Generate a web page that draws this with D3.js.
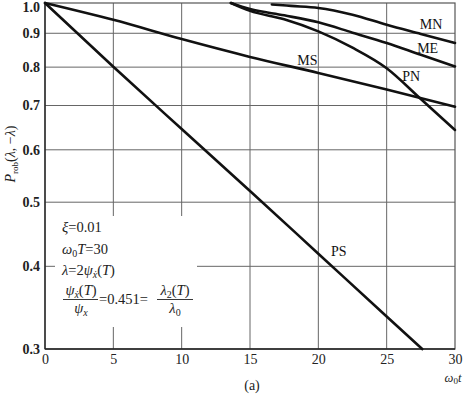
<!DOCTYPE html>
<html><head><meta charset="utf-8">
<script src="https://cdn.jsdelivr.net/npm/d3@7"></script>
<style>body{margin:0;background:#fff}svg{display:block}</style>
</head><body>
<svg id="c" width="464" height="394"></svg>
<script>
// ---- data ----
const xTicks = [0, 5, 10, 15, 20, 25, 30];
const yTicks = [0.3, 0.4, 0.5, 0.6, 0.7, 0.8, 0.9, 1.0];
const gridY = [0.4, 0.5, 0.6, 0.7, 0.8, 0.9];
const gridX = [5, 10, 15, 20, 25];

const psX = [0, 5, 10, 15, 20, 25, 27.6];
const psY = [1.0, 0.801, 0.645, 0.520, 0.418, 0.336, 0.3];
const msX = [0, 5, 10, 15, 20, 25, 30];
const msY = [1.0, 0.943, 0.882, 0.829, 0.784, 0.740, 0.697];
const mnX = [16.6, 18, 20, 22.5, 25, 27.5, 30];
const mnY = [0.995, 0.99, 0.983, 0.960, 0.927, 0.898, 0.870];
const meX = [13.6, 15, 17.5, 20, 22.5, 25, 27.5, 30];
const meY = [1.0, 0.979, 0.958, 0.935, 0.902, 0.870, 0.835, 0.802];
const pnX = [13.6, 15, 17.5, 20, 22.5, 25, 27.5, 30];
const pnY = [1.0, 0.973, 0.945, 0.906, 0.856, 0.797, 0.716, 0.643];

const series = [
  {name: "PS", xs: psX, ys: psY, lx: 21.5, ly: 0.421},
  {name: "MS", xs: msX, ys: msY, lx: 19.2, ly: 0.820},
  {name: "MN", xs: mnX, ys: mnY, lx: 28.25, ly: 0.929},
  {name: "ME", xs: meX, ys: meY, lx: 28.0, ly: 0.855},
  {name: "PN", xs: pnX, ys: pnY, lx: 26.8, ly: 0.775}
];

// ---- drawing ----
const svg = d3.select("#c");
const font = "'Liberation Serif','Times New Roman',serif";
const x = d3.scaleLinear().domain([0, 30]).range([45, 455]);
const y = d3.scaleLog().domain([0.3, 1.0]).range([349, 3]);

// grid
const g = svg.append("g");
g.selectAll(".gy").data(gridY).join("line")
  .attr("x1", x(0)).attr("x2", x(30))
  .attr("y1", d => y(d)).attr("y2", d => y(d))
  .attr("stroke", "#666").attr("stroke-width", 1);
g.selectAll(".gx").data(gridX).join("line")
  .attr("x1", d => x(d)).attr("x2", d => x(d))
  .attr("y1", y(1)).attr("y2", y(0.3))
  .attr("stroke", "#666").attr("stroke-width", 1);
// blank box for annotation
svg.append("rect").attr("x", 55).attr("y", 216).attr("width", 142).attr("height", 111).attr("fill", "#fff");

// frame
svg.append("rect").attr("x", x(0)).attr("y", y(1)).attr("width", x(30) - x(0)).attr("height", y(0.3) - y(1))
  .attr("fill", "none").attr("stroke", "#555").attr("stroke-width", 1.2);
svg.append("line").attr("x1", x(0)).attr("x2", x(0)).attr("y1", y(1)).attr("y2", y(0.3)).attr("stroke", "#222").attr("stroke-width", 1.3);
svg.append("line").attr("x1", x(0)).attr("x2", x(30)).attr("y1", y(0.3)).attr("y2", y(0.3)).attr("stroke", "#222").attr("stroke-width", 1.3);

// axes
const ax = svg.append("g").attr("transform", `translate(0,${y(0.3)})`)
  .call(d3.axisBottom(x).tickValues(xTicks).tickFormat(d3.format("d")).tickSize(0).tickPadding(5));
ax.select(".domain").remove();
ax.selectAll("text").attr("font-family", font).attr("font-size", 14).attr("fill", "#222");

const ay = svg.append("g").attr("transform", `translate(${x(0)},0)`)
  .call(d3.axisLeft(y).tickValues(yTicks).tickFormat(d3.format(".1f")).tickSize(0).tickPadding(5));
ay.select(".domain").remove();
ay.selectAll("text").attr("font-family", font).attr("font-size", 14).attr("font-weight", "bold").attr("fill", "#222");
ay.selectAll(".tick").filter(d => d === 1.0).select("text").attr("dy", "0.62em");

// curves
const line = d3.line().x(d => x(d[0])).y(d => y(d[1])).curve(d3.curveMonotoneX);
series.forEach(s => {
  const pts = s.xs.map((v, i) => [v, s.ys[i]]);
  svg.append("path").attr("d", line(pts)).attr("fill", "none")
    .attr("stroke", "#111").attr("stroke-width", 2.6).attr("stroke-linecap", "round");
  svg.append("text").attr("x", x(s.lx)).attr("y", y(s.ly)).attr("text-anchor", "middle")
    .attr("dominant-baseline", "central")
    .attr("font-family", font).attr("font-size", 14).attr("fill", "#111").text(s.name);
});

// axis titles
const yl = svg.append("text").attr("transform", "translate(15,154) rotate(-90)")
  .attr("text-anchor", "middle").attr("font-family", font).attr("font-size", 14).attr("fill", "#222");
yl.append("tspan").attr("font-style", "italic").text("P");
yl.append("tspan").attr("font-size", 9).attr("dy", 3).text("rob");
yl.append("tspan").attr("dy", -3).text("(");
yl.append("tspan").attr("font-style", "italic").text("λ");
yl.append("tspan").text(", −");
yl.append("tspan").attr("font-style", "italic").text("λ");
yl.append("tspan").text(")");

const xl = svg.append("text").attr("x", 453).attr("y", 382).attr("text-anchor", "middle")
  .attr("font-family", font).attr("font-size", 12.5).attr("font-style", "italic").attr("fill", "#222");
xl.append("tspan").text("ω");
xl.append("tspan").attr("font-size", 9).attr("dy", 2).attr("font-style", "normal").text("0");
xl.append("tspan").attr("dy", -2).text("t");

svg.append("text").attr("x", 252).attr("y", 390).attr("text-anchor", "middle")
  .attr("font-family", font).attr("font-size", 14).attr("fill", "#222").text("(a)");

// annotation
function ann(xp, yp, parts, anchor) {
  const t = svg.append("text").attr("x", xp).attr("y", yp).attr("font-family", font)
    .attr("font-size", 14.5).attr("fill", "#222").attr("text-anchor", anchor || "start");
  let dy = 0;
  parts.forEach(p => {
    const ts = t.append("tspan").text(p[0]);
    if (p[1] && p[1].includes("i")) ts.attr("font-style", "italic");
    if (p[1] && p[1].includes("s")) { ts.attr("font-size", 10).attr("dy", 3 - dy); dy = 3; }
    else if (dy !== 0) { ts.attr("dy", -dy); dy = 0; }
  });
  return t;
}
ann(62, 232, [["ξ", "i"], ["=0.01"]]);
ann(62, 254, [["ω", "i"], ["0", "s"], ["T", "i"], ["=30"]]);
ann(62, 275, [["λ", "i"], ["=2"], ["ψ", "i"], ["ẋ", "is"], ["("], ["T", "i"], [")"]]);
ann(81, 295, [["ψ", "i"], ["ẋ", "is"], ["("], ["T", "i"], [")"]], "middle");
ann(81, 313, [["ψ", "i"], ["x", "is"]], "middle");
svg.append("line").attr("x1", 63).attr("x2", 98).attr("y1", 299.5).attr("y2", 299.5).attr("stroke", "#222").attr("stroke-width", 0.9);
ann(99, 304, [["=0.451="]]);
ann(175, 295, [["λ", "i"], ["2", "s"], ["("], ["T", "i"], [")"]], "middle");
ann(175, 313, [["λ", "i"], ["0", "s"]], "middle");
svg.append("line").attr("x1", 157).attr("x2", 193).attr("y1", 299.5).attr("y2", 299.5).attr("stroke", "#222").attr("stroke-width", 0.9);
</script>
</body></html>
